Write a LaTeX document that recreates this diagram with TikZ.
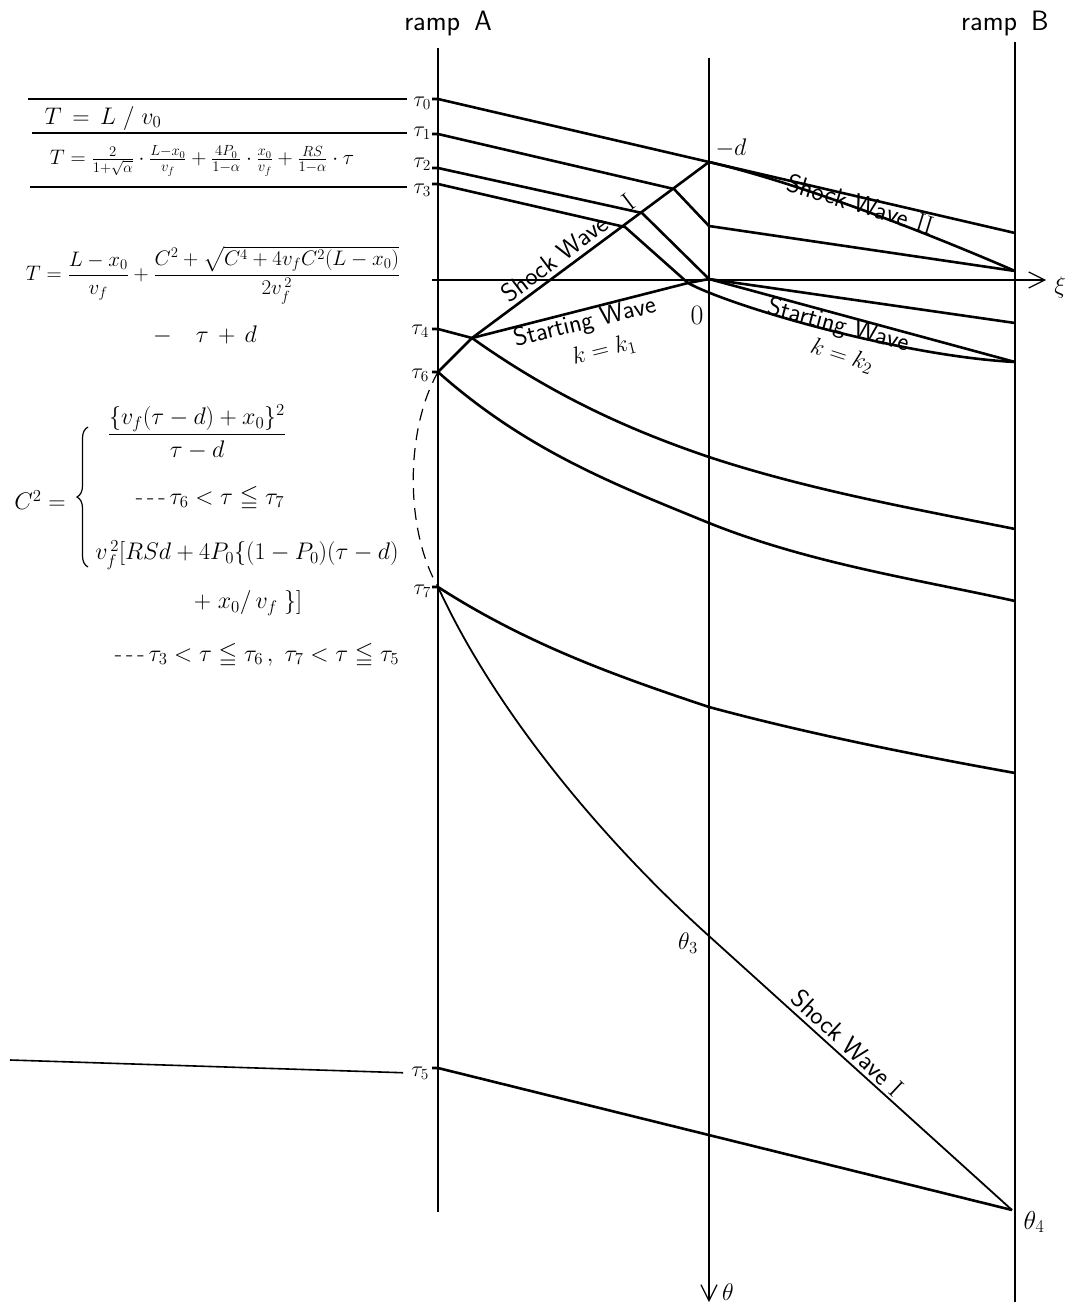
\RequirePackage{fix-cm}
\documentclass[tikz,border=0pt]{standalone}
\usepackage{amsmath,amssymb}
\usepackage{tikz}
\usetikzlibrary{arrows.meta,decorations.pathreplacing}
\tikzset{
  axis/.style={line width=1.2pt, draw=black},
  wave/.style={line width=2.6pt, draw=black, line join=round},
  shk/.style={line width=1.8pt, draw=black, line join=round},
  hline/.style={line width=1.6pt, draw=black},
  dashc/.style={line width=1.2pt, draw=black, dash pattern=on 12pt off 8pt},
  tip/.style={-{Straight Barb[length=16pt,width=16pt,line width=1.2pt]}},
  tau/.style={font=\fontsize{22}{26}\selectfont, inner sep=0pt, anchor=east},
  lbl/.style={font=\fontsize{24}{28}\selectfont, inner sep=0pt},
  ramp/.style={font=\fontsize{28}{32}\selectfont\sffamily, inner sep=0pt},
  wlbl/.style={font=\fontsize{26}{30}\selectfont\sffamily, inner sep=0pt},
  eqn/.style={font=\fontsize{21}{25}\selectfont, inner sep=0pt},
  eqs/.style={font=\fontsize{24}{28}\selectfont, inner sep=0pt},
}

\begin{document}
\begin{tikzpicture}[x=1pt,y=-1pt]
  \useasboundingbox (0,0) rectangle (1071,1304);

  % axes: ramp A, centre line (theta), ramp B, xi
  \coordinate (Atop) at (438,48);   \coordinate (Abot) at (438,1212);
  \coordinate (Mtop) at (709,58);   \coordinate (Mbot) at (709,1302);
  \coordinate (Btop) at (1015,42);  \coordinate (Bbot) at (1015,1302);
  \coordinate (Xbeg) at (432,280);  \coordinate (Xend) at (1046,280);
  \draw[axis] (Atop) -- (Abot);
  \draw[axis] (Btop) -- (Bbot);
  \draw[axis,tip] (Mtop) -- (Mbot);
  \draw[axis,tip] (Xbeg) -- (Xend);
  \node[ramp] (rampA) at (448,24) {ramp\enspace A};
  \node[ramp] (rampB) at (1005,24) {ramp\enspace B};
  \node[lbl] (xi) at (1060,287) {$\xi$};
  \node[lbl, anchor=west] (theta) at (722,1292) {$\theta$};

  % start times on ramp A
  \coordinate (t0) at (438,99);
  \coordinate (t1) at (438,134);
  \coordinate (t2) at (438,168);
  \coordinate (t3) at (438,184);
  \coordinate (t4) at (438,329);
  \coordinate (t6) at (438,372);
  \coordinate (t7) at (438,587);
  \coordinate (t5) at (438,1068);
  \node[tau] (lt0) at (431,103) {$\tau_0$};
  \node[tau] (lt1) at (431,133) {$\tau_1$};
  \node[tau] (lt2) at (431,164) {$\tau_2$};
  \node[tau] (lt3) at (431,190) {$\tau_3$};
  \node[tau] (lt4) at (429,331) {$\tau_4$};
  \node[tau] (lt6) at (429,375) {$\tau_6$};
  \node[tau] (lt7) at (431,591) {$\tau_7$};
  \node[tau] (lt5) at (429,1073) {$\tau_5$};

  % level lines on the left
  \coordinate (h0) at (28,99);
  \coordinate (h1) at (32,133);
  \coordinate (h3) at (30,187);
  \coordinate (h5) at (10,1060);
  \draw[hline, shorten >=6pt] (h0) -- (h0 -| lt0.west);
  \draw[hline, shorten >=6pt] (h1) -- (h1 -| lt1.west);
  \draw[hline, shorten >=6pt] (h3) -- (h3 -| lt3.west);
  \draw[hline, shorten >=8pt] (h5) -- (lt5.west);

  % junctions
  \coordinate (negd) at (709,162);
  \coordinate (k1) at (674,189);
  \coordinate (k2) at (642,213);
  \coordinate (k3) at (625,227);
  \coordinate (m1) at (709,226);
  \coordinate (O) at (709,279);
  \coordinate (s3) at (688,283);
  \coordinate (j4) at (472,338);
  \coordinate (c1m) at (709,457);
  \coordinate (c2m) at (709,523);
  \coordinate (c3m) at (709,707);
  \coordinate (th3) at (709,936);
  \coordinate (th4) at (1012,1210);
  \coordinate (b0) at (1015,233);
  \coordinate (b1) at (1015,271);
  \coordinate (b2) at (1015,323);
  \coordinate (b3) at (1015,362);
  \coordinate (b4) at (1015,529);
  \coordinate (b5) at (1015,601);
  \coordinate (b6) at (1015,773);

  % vehicle paths
  \draw[wave] ([xshift=-6pt]t0) -- (t0) -- (negd) -- (b0);
  \draw[wave] ([xshift=-6pt]t1) -- (t1) -- (k1) -- (m1) -- (b1);
  \draw[wave] ([xshift=-6pt]t2) -- (t2) -- (k2) -- (O);
  \draw[wave] ([xshift=-6pt]t3) -- (t3) -- (k3) -- (s3)
              .. controls (730,306) and (900,356) .. (b3);
  \draw[wave] ([xshift=-6pt]t4) -- (t4) -- (j4);
  \draw[wave] (O) -- (b2);
  \draw[wave] (j4) .. controls +(80,57) and +(-80,-27) .. (c1m)
                   .. controls +(100,33) and +(-100,-20) .. (b4);
  \draw[wave] ([xshift=-6pt]t6) -- (t6)
                   .. controls +(90,80) and +(-90,-37) .. (c2m)
                   .. controls +(100,40) and +(-100,-22) .. (b5);
  \draw[wave] ([xshift=-6pt]t7) -- (t7)
                   .. controls +(90,58) and +(-90,-30) .. (c3m)
                   .. controls +(100,27) and +(-100,-18) .. (b6);
  \draw[wave] ([xshift=-6pt]t5) -- (t5) -- (th4);

  % waves
  \draw[wave] (t6) -- (j4) -- (negd);
  \draw[wave] (j4) -- (s3) -- (O);
  \draw[wave] (O) -- (b3);
  \draw[wave] (negd) .. controls +(90,21) and +(-90,-39) .. (b1);
  \draw[shk] (t7) .. controls +(60,130) and +(-100,-90) .. (th3) -- (th4);
  \draw[dashc] (t6) .. controls (405,430) and (405,530) .. (t7);

  % wave names
  \node[wlbl, rotate=-17] (swII) at (861,204) {Shock Wave \textrm{II}};
  \node[wlbl, rotate=37] (swIa) at (568,248) {Shock Wave\quad\textrm{I}};
  \node[wlbl, rotate=14] (stw1) at (585,323) {Starting Wave};
  \node[lbl, rotate=14] (kk1) at (604,350) {$k=k_1$};
  \node[wlbl, rotate=-15] (stw2) at (838,326) {Starting Wave};
  \node[lbl, rotate=-18] (kk2) at (842,356) {$k=k_2$};
  \node[wlbl, rotate=-43] (swIb) at (848,1043) {Shock Wave \textrm{I}};

  % point labels
  \node[lbl] (ld) at (731,148) {$-d$};
  \node[font=\fontsize{28}{32}\selectfont] (lO) at (697,315) {$0$};
  \node[lbl] (lth3) at (688,943) {$\theta_3$};
  \node[font=\fontsize{26}{30}\selectfont] (lth4) at (1034,1222) {$\theta_4$};

  % travel time formulas
  \node[eqs] (eqA) at (103,118) {$T\,=\,L\;/\;v_0$};
  \node[eqn] (eqB) at (202,161)
    {$T=\frac{2}{1+\sqrt{\alpha}}\cdot\frac{L-x_0}{v_f}+\frac{4P_0}{1-\alpha}\cdot\frac{x_0}{v_f}+\frac{RS}{1-\alpha}\cdot\tau$};
  \node[eqn] (eqC) at (213,275)
    {$T=\dfrac{L-x_0}{v_f}+\dfrac{C^2+\sqrt{C^4+4v_fC^2(L-x_0)}}{2v_f^{\,2}}$};
  \node[eqs] (eqC2) at (205,335) {$-\quad\tau\,+\,d$};

  % C^2 cases
  \node[eqs] (cc) at (40,500) {$C^2=$};
  \draw[line width=1.2pt, decorate, decoration={brace, amplitude=11pt}] (88,567) -- (88,427);
  \node[eqs] (cA) at (197,432) {$\dfrac{\{v_f(\tau-d)+x_0\}^2}{\tau-d}$};
  \node[eqs] (cAc) at (210,498) {-\,-\,-\,$\tau_6<\tau\leqq\tau_7$};
  \node[eqs] (cB1) at (247,555) {$v_f^{\,2}[RSd+4P_0\{(1-P_0)(\tau-d)$};
  \node[eqs] (cB2) at (248,603) {$+\;x_0/\,v_f\;\}]$};
  \node[eqs] (cBc) at (257,655) {-\,-\,-\,$\tau_3<\tau\leqq\tau_6\,,\ \tau_7<\tau\leqq\tau_5$};
\end{tikzpicture}
\end{document}
